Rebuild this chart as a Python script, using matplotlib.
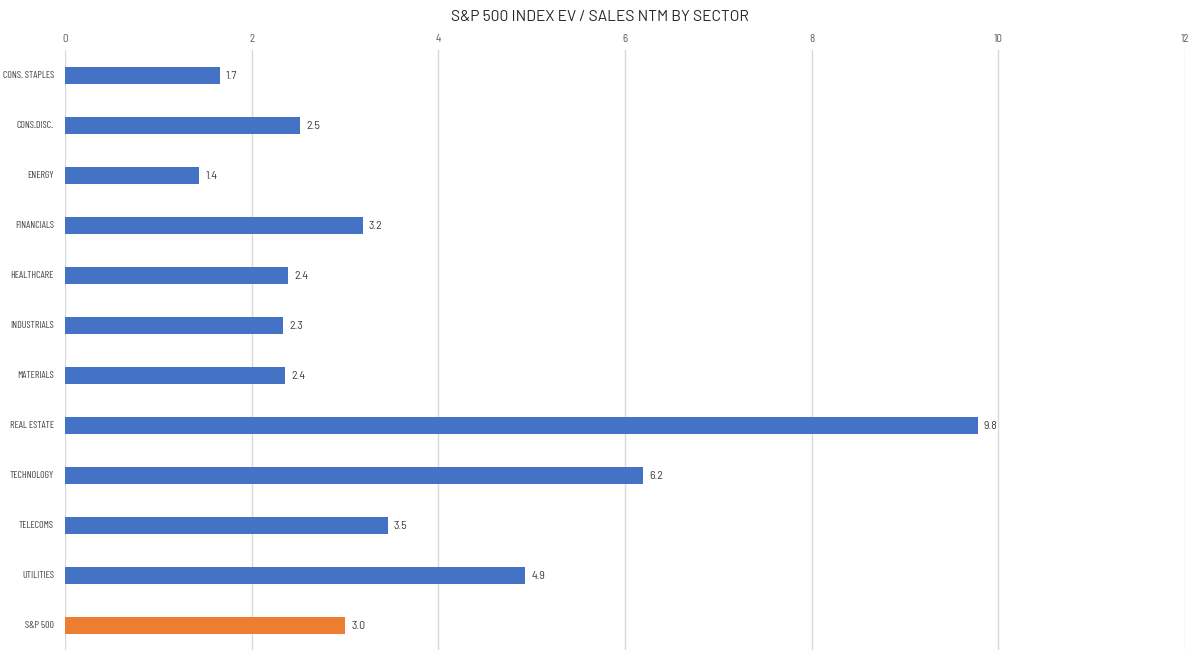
import matplotlib
matplotlib.use("Agg")
import matplotlib.pyplot as plt

categories = ["CONS. STAPLES", "CONS.DISC.", "ENERGY", "FINANCIALS", "HEALTHCARE",
              "INDUSTRIALS", "MATERIALS", "REAL ESTATE", "TECHNOLOGY", "TELECOMS",
              "UTILITIES", "S&P 500"]
values = [1.66, 2.52, 1.44, 3.19, 2.39, 2.34, 2.36, 9.78, 6.19, 3.46, 4.93, 3.00]
xticks = [0, 2, 4, 6, 8, 10, 12]
title = "S&P 500 INDEX EV / SALES NTM BY SECTOR"

plt.rcParams["font.family"] = ["Barlow Condensed", "DejaVu Sans"]
fam_num = ["Barlow Semi Condensed", "Barlow Condensed", "DejaVu Sans"]
fam_title = ["Barlow", "Barlow Condensed", "DejaVu Sans"]

blue = "#4472C4"
orange = "#ED7D31"
colors = [orange if c == "S&P 500" else blue for c in categories]

fig = plt.figure(figsize=(12, 6.6), dpi=100)
ax = fig.add_axes([65/1200, 1-650/660, 1120/1200, 600/660])
ypos = list(range(len(categories)))
ax.barh(ypos, values, height=0.34, color=colors, zorder=3)
for y, v in zip(ypos, values):
    ax.text(v + 0.065, y + 0.02, f"{v:.1f}", va="center", ha="left", fontsize=8.5,
            color="#404040", family=fam_num)

ax.set_xlim(0, 12)
ax.set_ylim(len(categories) - 0.5, -0.5)
ax.set_xticks(xticks)
ax.set_xticklabels([str(t) for t in xticks], family=fam_num)
ax.xaxis.tick_top()
ax.tick_params(axis="x", length=0, pad=4, labelsize=8, labelcolor="#595959")
ax.set_yticks(ypos)
ax.set_yticklabels(categories)
ax.tick_params(axis="y", length=0, pad=8, labelsize=7.2, labelcolor="#404040")
ax.grid(axis="x", color="#d9d9d9", linewidth=1, zorder=0)
for s in ["top", "right", "bottom", "left"]:
    ax.spines[s].set_visible(False)

fig.text(0.5, 1-17/660, title, ha="center", va="center", fontsize=11.2,
         color="#262626", family=fam_title)

fig.savefig("out.png", dpi=100, facecolor="white")
